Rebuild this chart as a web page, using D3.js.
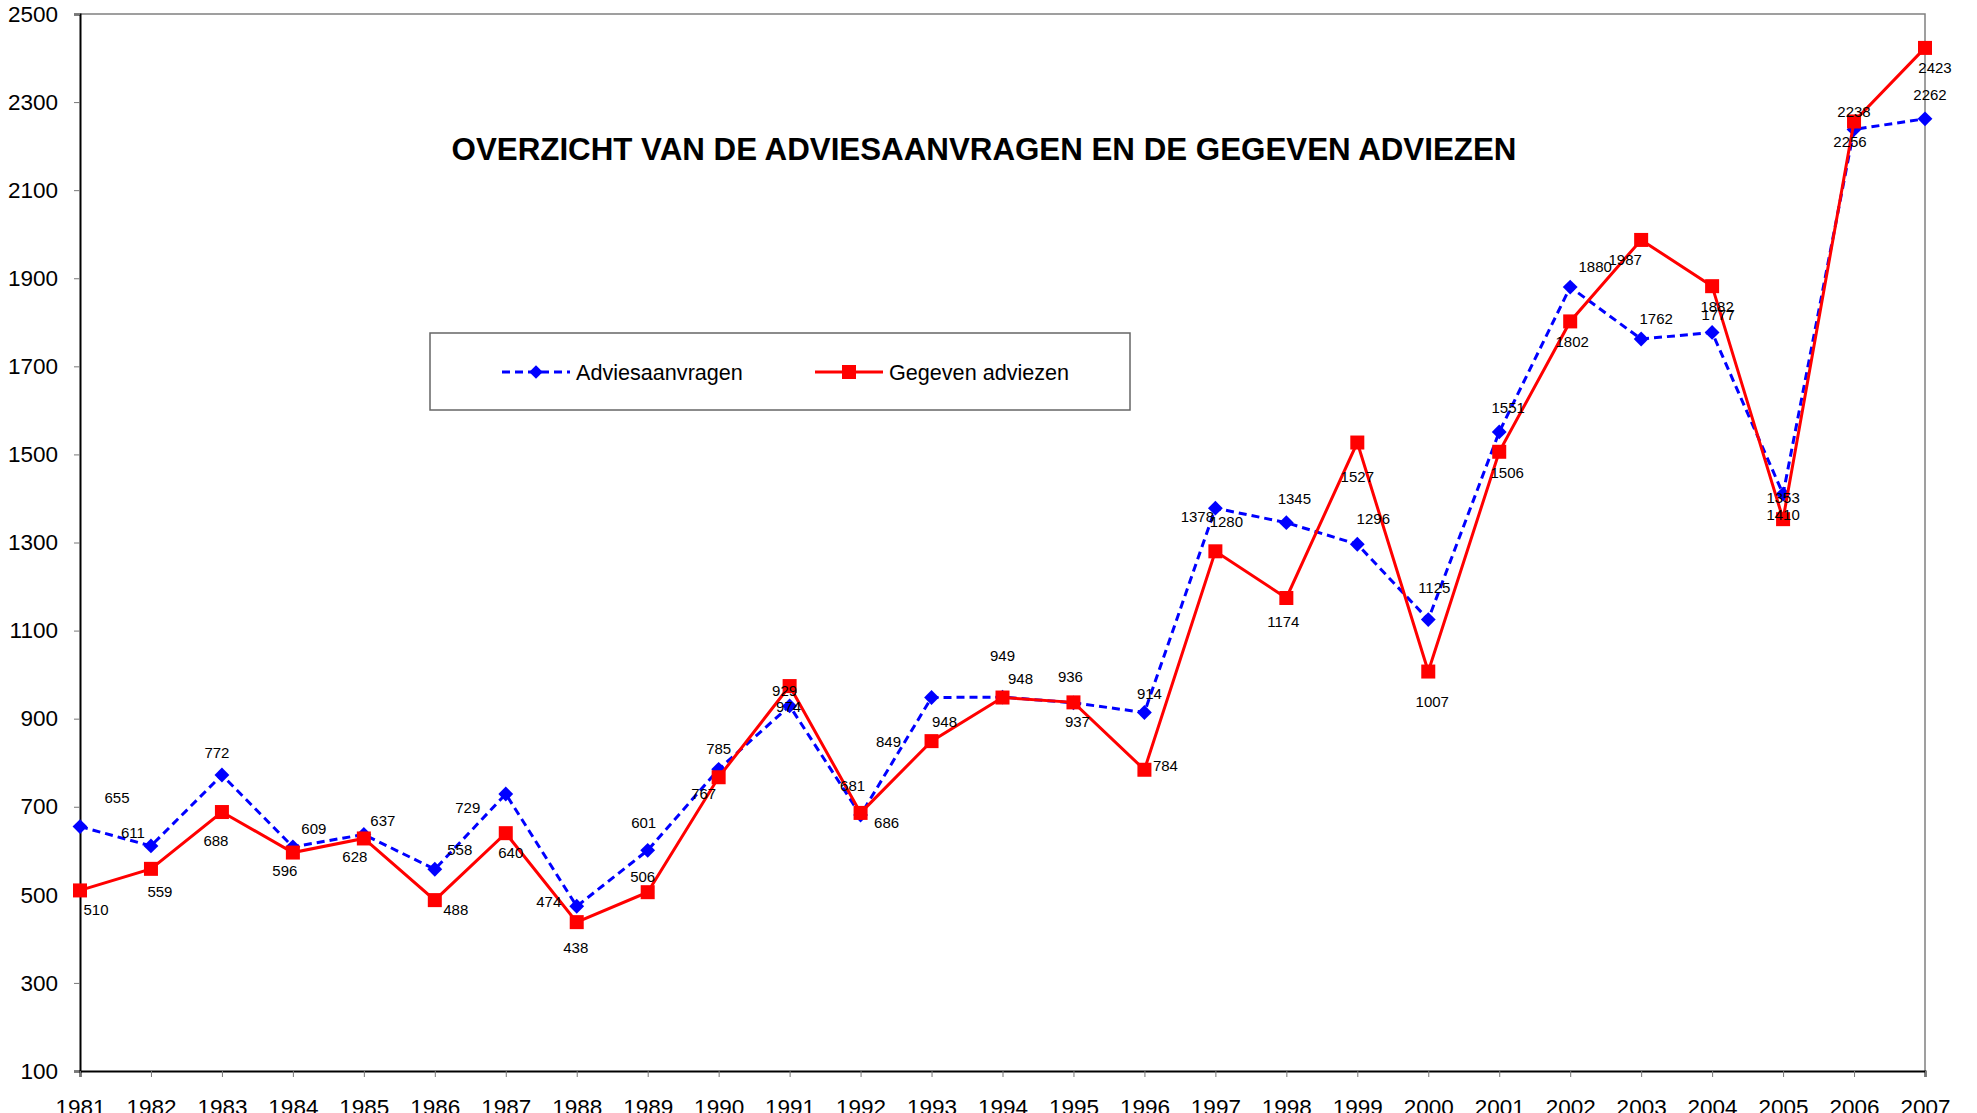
<!DOCTYPE html>
<html>
<head>
<meta charset="utf-8">
<script src="https://cdn.jsdelivr.net/npm/d3@7"></script>
<style>
  body { margin: 0; background: #fff; }
  svg { display: block; font-family: Arial, "Liberation Sans", sans-serif; }
</style>
</head>
<body>
<div id="chart"></div>
<script>
const years = [1981, 1982, 1983, 1984, 1985, 1986, 1987, 1988, 1989, 1990, 1991, 1992, 1993, 1994,
  1995, 1996, 1997, 1998, 1999, 2000, 2001, 2002, 2003, 2004, 2005, 2006, 2007];

const aanvragen = [655, 611, 772, 609, 637, 558, 729, 474, 601, 785, 929, 681, 948, 949,
  936, 914, 1378, 1345, 1296, 1125, 1551, 1880, 1762, 1777, 1410, 2238, 2262];

const adviezen = [510, 559, 688, 596, 628, 488, 640, 438, 506, 767, 974, 686, 849, 948,
  937, 784, 1280, 1174, 1527, 1007, 1506, 1802, 1987, 1882, 1353, 2256, 2423];

const yTicks = [100, 300, 500, 700, 900, 1100, 1300, 1500, 1700, 1900, 2100, 2300, 2500];

const seriesNames = ['Adviesaanvragen', 'Gegeven adviezen'];
const title = 'OVERZICHT VAN DE ADVIESAANVRAGEN EN DE GEGEVEN ADVIEZEN';

// where each data label sits relative to its marker (hand placed in the original)
const blueLabelOffset = [[37,-29],[-18,-13],[-5,-23],[21,-18],[19,-14],[25,-20],[-38,14],[-28,-5],[-4,-28],
  [0,-21],[-5,-15],[-8,-30],[13,24],[0,-42],[-3,-26],[5,-19],[-18,8],[8,-24],[16,-26],[6,-32],[9,-24],
  [25,-21],[15,-21],[6,-18],[0,20],[0,-18],[5,-24]];
const redLabelOffset = [[16,19],[9,23],[-6,28],[-8,18],[-9,18],[21,9],[5,19],[-1,25],[-5,-16],
  [-15,16],[-1,20],[26,10],[-43,0],[18,-19],[4,19],[21,-4],[11,-30],[-3,24],[0,34],[4,30],[8,21],
  [2,20],[-16,20],[5,20],[0,-22],[-4,20],[10,20]];

const W = 1977, H = 1113;
const margin = {top: 14, right: 52, bottom: 42, left: 80};
const width = W - margin.left - margin.right,
      height = H - margin.top - margin.bottom;

const svg = d3.select('#chart').append('svg')
  .attr('width', W)
  .attr('height', H);

const g = svg.append('g')
  .attr('transform', `translate(${margin.left},${margin.top})`);

const x = d3.scaleLinear()
  .domain([d3.min(years), d3.max(years)])
  .range([0, width]);

const y = d3.scaleLinear()
  .domain([100, 2500])
  .range([height, 0]);

// plot frame: grey top / right
g.append('path')
  .attr('d', `M0,0H${width}V${height}`)
  .attr('fill', 'none')
  .attr('stroke', '#808080')
  .attr('stroke-width', 1.5);

// Y axis
const yAxis = g.append('g')
  .call(d3.axisLeft(y).tickValues(yTicks).tickSize(6).tickPadding(16).tickFormat(d3.format('d')));
yAxis.select('.domain').attr('stroke', '#000').attr('stroke-width', 2);
yAxis.selectAll('.tick line').attr('stroke', '#777');
yAxis.selectAll('.tick text').attr('font-size', 22.5).attr('fill', '#000')
  .attr('font-family', 'Arial, "Liberation Sans", sans-serif');

// X axis
const xAxis = g.append('g')
  .attr('transform', `translate(0,${height})`)
  .call(d3.axisBottom(x).tickValues(years).tickSize(6).tickPadding(22).tickFormat(d3.format('d')));
xAxis.select('.domain').attr('stroke', '#000').attr('stroke-width', 2);
xAxis.selectAll('.tick line').attr('stroke', '#777');
xAxis.selectAll('.tick text').attr('font-size', 22.5).attr('fill', '#000')
  .attr('font-family', 'Arial, "Liberation Sans", sans-serif');

const line = d3.line()
  .x((d, i) => x(years[i]))
  .y(d => y(d));

// Adviesaanvragen
g.append('path')
  .datum(aanvragen)
  .attr('d', line)
  .attr('fill', 'none')
  .attr('stroke', '#0000ff')
  .attr('stroke-width', 3)
  .attr('stroke-dasharray', '8,5');

g.append('g')
  .selectAll('path')
  .data(aanvragen)
  .enter()
  .append('path')
  .attr('d', d3.symbol().type(d3.symbolSquare).size(110))
  .attr('transform', (d, i) => `translate(${x(years[i])},${y(d)}) rotate(45)`)
  .attr('fill', '#0000ff');

// Gegeven adviezen
g.append('path')
  .datum(adviezen)
  .attr('d', line)
  .attr('fill', 'none')
  .attr('stroke', '#ff0000')
  .attr('stroke-width', 3);

g.append('g')
  .selectAll('rect')
  .data(adviezen)
  .enter()
  .append('rect')
  .attr('x', (d, i) => x(years[i]) - 7)
  .attr('y', d => y(d) - 7)
  .attr('width', 14)
  .attr('height', 14)
  .attr('fill', '#ff0000');

// data labels
function addLabels(values, offsets) {
  g.append('g')
    .selectAll('text')
    .data(values)
    .enter()
    .append('text')
    .attr('x', (d, i) => x(years[i]) + offsets[i][0])
    .attr('y', (d, i) => y(d) + offsets[i][1])
    .attr('text-anchor', 'middle')
    .attr('dominant-baseline', 'central')
    .attr('font-size', 15)
    .attr('fill', '#000')
    .text(d => d);
}
addLabels(aanvragen, blueLabelOffset);
addLabels(adviezen, redLabelOffset);

// title
svg.append('text')
  .attr('x', 984)
  .attr('y', 149)
  .attr('text-anchor', 'middle')
  .attr('dominant-baseline', 'central')
  .attr('font-size', 31.3)
  .attr('font-weight', 'bold')
  .text(title);

// legend
const legend = svg.append('g').attr('transform', 'translate(430,333)');
legend.append('rect')
  .attr('width', 700)
  .attr('height', 77)
  .attr('fill', '#fff')
  .attr('stroke', '#666')
  .attr('stroke-width', 1.5);

const legItems = [
  {name: seriesNames[0], x0: 72, color: '#0000ff', dash: '8,5', marker: 'diamond'},
  {name: seriesNames[1], x0: 385, color: '#ff0000', dash: null, marker: 'square'}
];
legItems.forEach(it => {
  const row = legend.append('g').attr('transform', `translate(${it.x0},39)`);
  row.append('line')
    .attr('x1', 0).attr('x2', 68)
    .attr('stroke', it.color)
    .attr('stroke-width', 3)
    .attr('stroke-dasharray', it.dash);
  if (it.marker === 'diamond') {
    row.append('path')
      .attr('d', d3.symbol().type(d3.symbolSquare).size(90))
      .attr('transform', 'translate(34,0) rotate(45)')
      .attr('fill', it.color);
  } else {
    row.append('rect')
      .attr('x', 27).attr('y', -7).attr('width', 14).attr('height', 14)
      .attr('fill', it.color);
  }
  row.append('text')
    .attr('x', 74)
    .attr('dominant-baseline', 'central')
    .attr('font-size', 21.6)
    .text(it.name);
});
</script>
</body>
</html>
